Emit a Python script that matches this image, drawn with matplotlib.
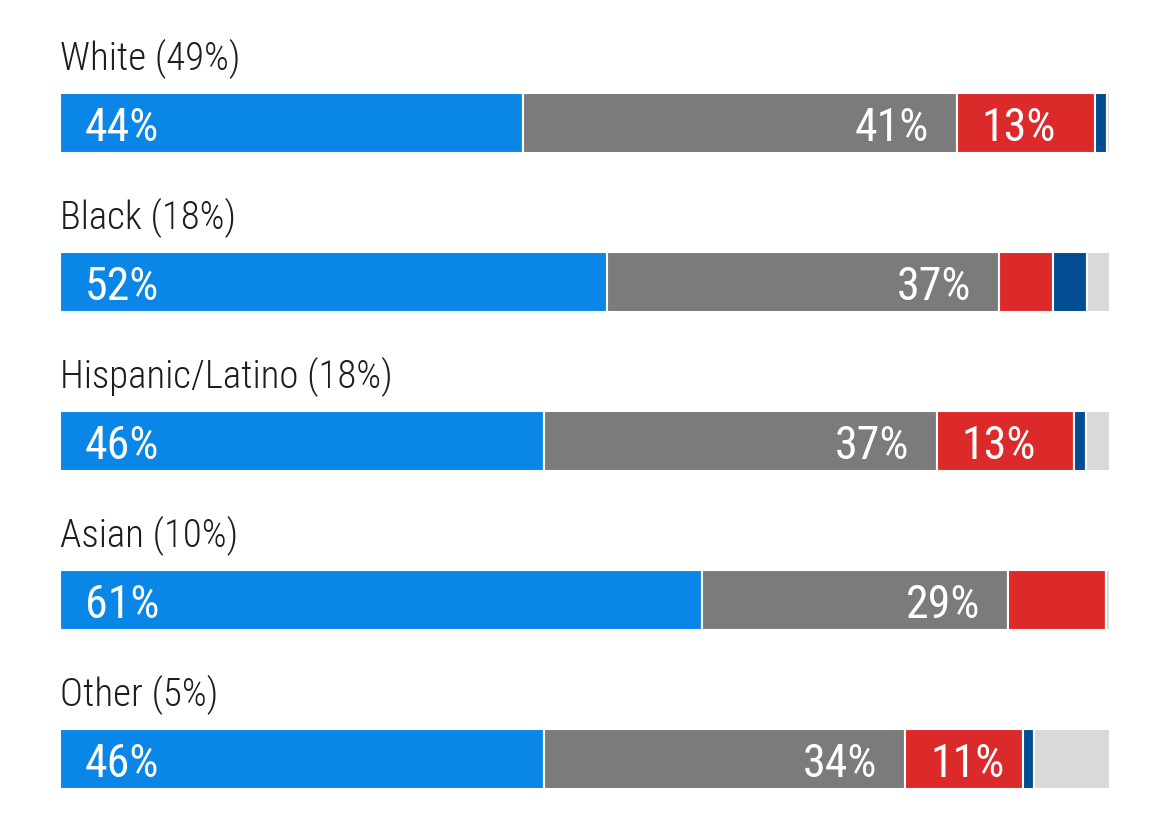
import matplotlib
matplotlib.use('Agg')
import matplotlib.pyplot as plt
from matplotlib import font_manager

groups = ['White (49%)', 'Black (18%)', 'Hispanic/Latino (18%)', 'Asian (10%)', 'Other (5%)']
dem = [44.1, 52.1, 46.1, 61.1, 46.1]
indep = [41.3, 37.3, 37.4, 29.2, 34.4]
rep = [13.2, 5.2, 13.1, 9.3, 11.2]
other_party = [1.1, 3.2, 1.1, 0.0, 1.1]
unsure = [0.3, 2.2, 2.3, 0.4, 7.2]

colors = ['#0a86e6', '#7b7b7b', '#dc2a2b', '#024c92', '#d9d9d9']

names = set(f.name for f in font_manager.fontManager.ttflist)
fam = 'DejaVu Sans'
for cand in ['Roboto Condensed', 'Liberation Sans Narrow', 'Roboto']:
    if cand in names:
        fam = cand
        break
plt.rcParams['font.family'] = [fam, 'DejaVu Sans']

W, H = 1170, 837
fig = plt.figure(figsize=(W / 100, H / 100), dpi=100)
ax = fig.add_axes([60 / W, 0, 1050 / W, 1])
ax.set_xlim(0, 100)
ax.set_ylim(4.487, -0.777)
ax.axis('off')

bar_h = 60 / 159
series = [dem, indep, rep, other_party, unsure]
ys = list(range(len(groups)))
left = [0.0] * len(groups)
for k, vals in enumerate(series):
    ax.barh(ys, vals, left=left, height=bar_h, color=colors[k],
            edgecolor='white', linewidth=1.5)
    for i, v in enumerate(vals):
        if k < 3 and v >= 10:
            txt = '%d%%' % round(v)
            if k == 1:
                ax.annotate(txt, (left[i] + v, i), xytext=(-20, 0),
                            textcoords='offset points', ha='right',
                            va='center_baseline', color='white', fontsize=33)
            else:
                ax.annotate(txt, (left[i], i), xytext=(18, 0),
                            textcoords='offset points', ha='left',
                            va='center_baseline', color='white', fontsize=33)
        left[i] += v

for i, g in enumerate(groups):
    ax.text(0, i - 0.405, g, ha='left', va='center', fontsize=28,
            fontweight='light', color='#1e1e1e')

fig.savefig('out.png', dpi=100, facecolor='white')
